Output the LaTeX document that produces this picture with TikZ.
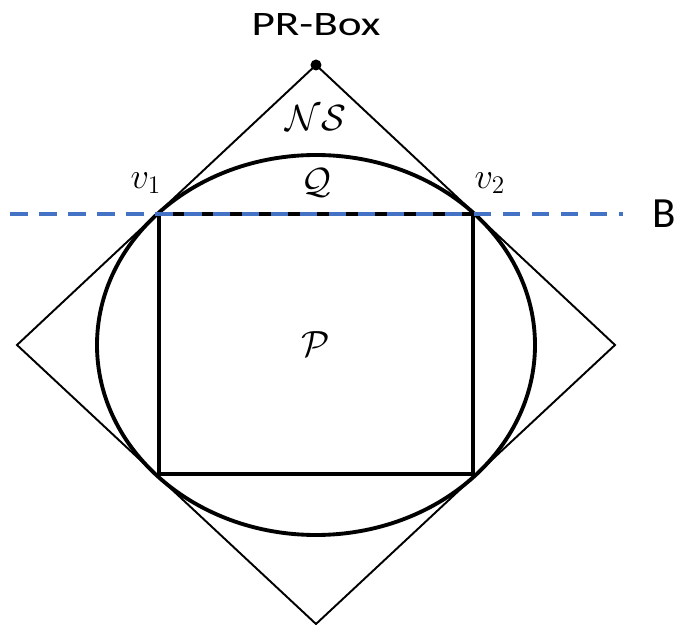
\documentclass[tikz,border=0pt]{standalone}
\usepackage{amsmath,amssymb}
\usepackage{fontspec}
\setsansfont{Carlito}
\usepackage{tikz}
\definecolor{bline}{RGB}{68,114,196}

\begin{document}
\begin{tikzpicture}[x=0.02cm,y=0.02cm,
        mlabel/.style={font=\fontsize{21.5}{26}\selectfont},
        slabel/.style={font=\sffamily\fontsize{19.5}{23}\selectfont}]
                \useasboundingbox (-316,-280) rectangle (377,345);
                % outer square of no-signalling boxes
                \coordinate (T) at (0,280);
                \coordinate (L) at (-299,0);
                \coordinate (R) at (299,0);
                \coordinate (D) at (0,-279);
                \draw[line width=1.1pt] (T)--(R)--(D)--(L)--cycle;
                \fill (T) circle (5.5);
                % quantum set and local polytope
                \draw[line width=2.2pt] (0,0) ellipse (219 and 190);
                \coordinate (v1) at (-157,131);
                \coordinate (v2) at (157,131);
                \draw[line width=2.2pt] (v1) rectangle (157,-129);
                % Bell inequality
                \coordinate (Bl) at (-306,131);
                \coordinate (Br) at (307,131);
                \draw[bline, line width=1.9pt, dash pattern=on 10pt off 6.5pt] (Bl)--(Br);
                \node[slabel] (prbox) at (0,320) {\scalebox{1.32}[1]{PR-Box}};
                \node[slabel, font=\sffamily\fontsize{24.5}{29}\selectfont] (bineq) at (348,131) {B};
                \node[mlabel] (lv1) at (-170,162) {$v_1$};
                \node[mlabel] (lv2) at (174,162) {$v_2$};
                \node[mlabel] (ns) at (0,227) {$\mathcal{NS}$};
                \node[mlabel] (q) at (0,162) {$\mathcal{Q}$};
                \node[mlabel] (p) at (0,1) {$\mathcal{P}$};
            \end{tikzpicture}
\end{document}
